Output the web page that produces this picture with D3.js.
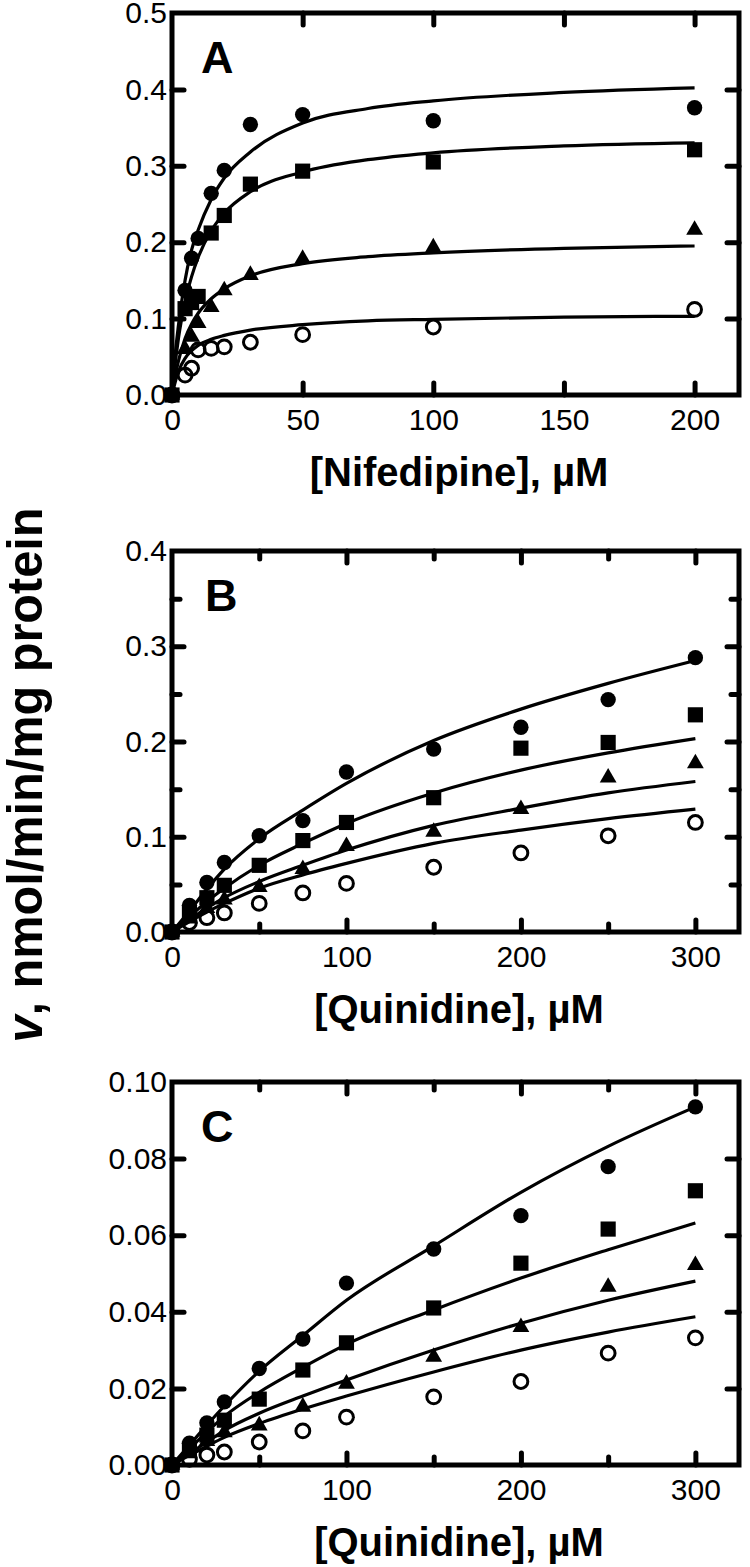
<!DOCTYPE html>
<html>
<head>
<meta charset="utf-8">
<title>Nifedipine / Quinidine kinetics</title>
<script src="https://d3js.org/d3.v7.min.js"></script>
<style>
  body { margin: 0; background: #fff; }
  text { font-family: "Liberation Sans", Arial, Helvetica, sans-serif; fill: #000; }
</style>
</head>
<body>
<div id="chart"></div>
<script>
// ---------- panel A : nifedipine ----------
var nifConc = [0, 5, 7.5, 10, 15, 20, 30, 50, 100, 200]
var nifCircle = [0, 0.137, 0.179, 0.205, 0.264, 0.294, 0.354, 0.367, 0.359, 0.376]
var nifSquare = [0, 0.113, 0.121, 0.129, 0.212, 0.235, 0.276, 0.293, 0.305, 0.321]
var nifTriangle = [0, 0.060, 0.076, 0.094, 0.115, 0.137, 0.157, 0.178, 0.193, 0.216]
var nifOpen = [0, 0.026, 0.035, 0.059, 0.061, 0.063, 0.069, 0.079, 0.089, 0.112]

// fitted lines
var nifFitX = [0, 1, 2.5, 5, 7.5, 10, 15, 20, 30, 50, 75, 100, 150, 200]
var nifFitCircle = [0, 0.045, 0.092, 0.150, 0.190, 0.216, 0.256, 0.284, 0.318, 0.356, 0.375, 0.385, 0.396, 0.402]
var nifFitSquare = [0, 0.034, 0.075, 0.122, 0.155, 0.180, 0.215, 0.238, 0.266, 0.292, 0.308, 0.317, 0.326, 0.330]
var nifFitTriangle = [0, 0.021, 0.045, 0.074, 0.093, 0.107, 0.126, 0.139, 0.156, 0.172, 0.181, 0.186, 0.192, 0.195]
var nifFitOpen = [0, 0.014, 0.031, 0.048, 0.058, 0.065, 0.073, 0.078, 0.085, 0.092, 0.097, 0.099, 0.102, 0.103]

var nifXLabels = [0, 50, 100, 150, 200]
var nifXMajor = [50, 100, 150, 200]
var nifYLabels = [0, 0.1, 0.2, 0.3, 0.4, 0.5]
var nifYMajor = [0.1, 0.2, 0.3, 0.4]

// ---------- panel B : quinidine ----------
var quinConc = [0, 10, 20, 30, 50, 75, 100, 150, 200, 250, 300]
var quinBCircle = [0, 0.028, 0.052, 0.073, 0.101, 0.117, 0.168, 0.192, 0.215, 0.244, 0.288]
var quinBSquare = [0, 0.020, 0.036, 0.049, 0.070, 0.096, 0.115, 0.141, 0.193, 0.199, 0.228]
var quinBTriangle = [0, 0.014, 0.025, 0.034, 0.047, 0.066, 0.090, 0.105, 0.129, 0.162, 0.177]
var quinBOpen = [0, 0.010, 0.015, 0.020, 0.030, 0.041, 0.051, 0.068, 0.083, 0.101, 0.115]

var quinFitX = [0, 10, 20, 30, 50, 75, 100, 150, 200, 250, 300]
var quinBFitCircle = [0, 0.022, 0.045, 0.066, 0.098, 0.128, 0.156, 0.201, 0.234, 0.261, 0.285]
var quinBFitSquare = [0, 0.016, 0.032, 0.046, 0.070, 0.093, 0.114, 0.146, 0.170, 0.188, 0.203]
var quinBFitTriangle = [0, 0.013, 0.025, 0.036, 0.053, 0.070, 0.086, 0.112, 0.130, 0.146, 0.158]
var quinBFitOpen = [0, 0.011, 0.021, 0.030, 0.046, 0.060, 0.072, 0.093, 0.107, 0.119, 0.129]

var quinXLabels = [0, 100, 200, 300]
var quinXMajor = [100, 200, 300]
var quinXMinor = [50, 150, 250]
var quinBYLabels = [0, 0.1, 0.2, 0.3, 0.4]
var quinBYMajor = [0.1, 0.2, 0.3]
var quinBYMinor = [0.05, 0.15, 0.25, 0.35]

// ---------- panel C : quinidine ----------
var quinCCircle = [0, 0.0057, 0.011, 0.0165, 0.0252, 0.0329, 0.0475, 0.0564, 0.0651, 0.0779, 0.0935]
var quinCSquare = [0, 0.0042, 0.0078, 0.0117, 0.0172, 0.0248, 0.0319, 0.0410, 0.0527, 0.0616, 0.0716]
var quinCTriangle = [0, 0.0030, 0.0062, 0.0085, 0.0103, 0.0152, 0.0212, 0.0282, 0.0360, 0.0465, 0.0522]
var quinCOpen = [0, 0.0015, 0.0026, 0.0034, 0.0060, 0.0089, 0.0125, 0.0178, 0.0218, 0.0292, 0.0332]

var quinCFitCircle = [0, 0.0052, 0.0104, 0.0154, 0.0245, 0.0338, 0.0430, 0.0572, 0.0712, 0.0832, 0.0935]
var quinCFitSquare = [0, 0.0043, 0.0086, 0.0127, 0.0190, 0.0255, 0.0315, 0.0405, 0.0488, 0.0562, 0.0632]
var quinCFitTriangle = [0, 0.0030, 0.0060, 0.0090, 0.0135, 0.0180, 0.0222, 0.0300, 0.0370, 0.0430, 0.0480]
var quinCFitOpen = [0, 0.0025, 0.0049, 0.0072, 0.0108, 0.0146, 0.0180, 0.0243, 0.0300, 0.0347, 0.0387]

var quinCYLabels = [0, 0.02, 0.04, 0.06, 0.08, 0.10]
var quinCYMajor = [0.02, 0.04, 0.06, 0.08]

// page
var W = 750, H = 1567
var frameLeft = 172, frameRight = 739

var svg = d3.select("#chart")
  .append("svg")
    .attr("width", W)
    .attr("height", H)

// shared y title
svg.append("text")
  .attr("transform", "translate(42,775) rotate(-90)")
  .attr("text-anchor", "middle")
  .attr("font-size", 50)
  .attr("font-weight", "bold")
  .attr("textLength", 535)
  .attr("lengthAdjust", "spacingAndGlyphs")
  .call(function (t) {
    t.append("tspan").attr("font-style", "italic").text("v")
    t.append("tspan").text(", nmol/min/mg protein")
  })

var markers = {
  circle:   { type: d3.symbolCircle,   size: 185, fill: "#000", stroke: "none", sw: 0 },
  square:   { type: d3.symbolSquare,   size: 230, fill: "#000", stroke: "none", sw: 0 },
  triangle: { type: d3.symbolTriangle, size: 122, fill: "#000", stroke: "none", sw: 0 },
  open:     { type: d3.symbolCircle,   size: 150, fill: "none", stroke: "#000", sw: 3 }
}

function drawPanel(p) {
  var g = svg.append("g")

  var x = d3.scaleLinear().domain(p.xDomain).range([frameLeft, frameRight])
  var y = d3.scaleLinear().domain(p.yDomain).range([p.bottom, p.top])

  // fitted curves
  var line = d3.line()
    .x(function (d) { return x(d[0]) })
    .y(function (d) { return y(d[1]) })
    .curve(d3.curveMonotoneX)
  p.fits.forEach(function (f) {
    g.append("path")
      .datum(d3.zip(p.fitX, f))
      .attr("d", line)
      .attr("fill", "none")
      .attr("stroke", "#000")
      .attr("stroke-width", 3.2)
  })

  // frame
  g.append("rect")
    .attr("x", frameLeft).attr("y", p.top)
    .attr("width", frameRight - frameLeft).attr("height", p.bottom - p.top)
    .attr("fill", "none").attr("stroke", "#000").attr("stroke-width", 5)

  // inward ticks on all four sides
  function ticks(axisFn, transform, scale, values, len) {
    if (!values || !values.length) return
    var a = g.append("g")
      .attr("transform", transform)
      .call(axisFn(scale).tickValues(values).tickSize(-len).tickFormat(""))
    a.select(".domain").remove()
    a.selectAll("line").attr("stroke", "#000").attr("stroke-width", 5).attr("stroke-linecap", "round")
  }
  var bottomT = "translate(0," + p.bottom + ")", topT = "translate(0," + p.top + ")"
  var leftT = "translate(" + frameLeft + ",0)", rightT = "translate(" + frameRight + ",0)"
  ticks(d3.axisBottom, bottomT, x, p.xMajor, 12)
  ticks(d3.axisTop, topT, x, p.xMajor, 12)
  ticks(d3.axisBottom, bottomT, x, p.xMinor, 8)
  ticks(d3.axisTop, topT, x, p.xMinor, 8)
  ticks(d3.axisLeft, leftT, y, p.yMajor, 12)
  ticks(d3.axisRight, rightT, y, p.yMajor, 12)
  ticks(d3.axisLeft, leftT, y, p.yMinor, 8)
  ticks(d3.axisRight, rightT, y, p.yMinor, 8)

  // tick labels
  var xl = g.append("g")
    .attr("transform", bottomT)
    .call(d3.axisBottom(x).tickValues(p.xLabels).tickSize(0).tickPadding(14).tickFormat(d3.format("d")))
  xl.select(".domain").remove()
  xl.selectAll("text").attr("font-size", 30).attr("font-family", null)

  var yl = g.append("g")
    .attr("transform", leftT)
    .call(d3.axisLeft(y).tickValues(p.yLabels).tickSize(0).tickPadding(5).tickFormat(d3.format(p.yFormat)))
  yl.select(".domain").remove()
  yl.selectAll("text").attr("font-size", 30).attr("font-family", null)

  // axis title
  g.append("text")
    .attr("x", 459).attr("y", p.bottom + 91)
    .attr("text-anchor", "middle")
    .attr("font-size", 40)
    .attr("font-weight", "bold")
    .text(p.title)

  // panel letter
  g.append("text")
    .attr("x", p.letterX).attr("y", p.top + 60)
    .attr("font-size", 45)
    .attr("font-weight", "bold")
    .text(p.letter)

  // data points
  p.series.forEach(function (s) {
    var m = markers[s.shape]
    g.selectAll(null)
      .data(d3.zip(p.conc, s.values))
      .join("path")
        .attr("transform", function (d) { return "translate(" + x(d[0]) + "," + y(d[1]) + ")" })
        .attr("d", d3.symbol().type(m.type).size(m.size))
        .attr("fill", m.fill)
        .attr("stroke", m.stroke)
        .attr("stroke-width", m.sw)
  })
}

drawPanel({
  top: 13, bottom: 395, xDomain: [0, 217], yDomain: [0, 0.5],
  xLabels: nifXLabels, xMajor: nifXMajor, xMinor: [],
  yLabels: nifYLabels, yMajor: nifYMajor, yMinor: [], yFormat: ".1f",
  title: "[Nifedipine], \u00b5M", letter: "A", letterX: 201,
  fitX: nifFitX, fits: [nifFitCircle, nifFitSquare, nifFitTriangle, nifFitOpen],
  conc: nifConc,
  series: [
    { shape: "open", values: nifOpen },
    { shape: "triangle", values: nifTriangle },
    { shape: "square", values: nifSquare },
    { shape: "circle", values: nifCircle }
  ]
})

drawPanel({
  top: 551, bottom: 932, xDomain: [0, 325], yDomain: [0, 0.4],
  xLabels: quinXLabels, xMajor: quinXMajor, xMinor: quinXMinor,
  yLabels: quinBYLabels, yMajor: quinBYMajor, yMinor: quinBYMinor, yFormat: ".1f",
  title: "[Quinidine], \u00b5M", letter: "B", letterX: 205,
  fitX: quinFitX, fits: [quinBFitCircle, quinBFitSquare, quinBFitTriangle, quinBFitOpen],
  conc: quinConc,
  series: [
    { shape: "open", values: quinBOpen },
    { shape: "triangle", values: quinBTriangle },
    { shape: "square", values: quinBSquare },
    { shape: "circle", values: quinBCircle }
  ]
})

drawPanel({
  top: 1082, bottom: 1465, xDomain: [0, 325], yDomain: [0, 0.10],
  xLabels: quinXLabels, xMajor: quinXMajor, xMinor: quinXMinor,
  yLabels: quinCYLabels, yMajor: quinCYMajor, yMinor: [], yFormat: ".2f",
  title: "[Quinidine], \u00b5M", letter: "C", letterX: 201,
  fitX: quinFitX, fits: [quinCFitCircle, quinCFitSquare, quinCFitTriangle, quinCFitOpen],
  conc: quinConc,
  series: [
    { shape: "open", values: quinCOpen },
    { shape: "triangle", values: quinCTriangle },
    { shape: "square", values: quinCSquare },
    { shape: "circle", values: quinCCircle }
  ]
})
</script>
</body>
</html>
